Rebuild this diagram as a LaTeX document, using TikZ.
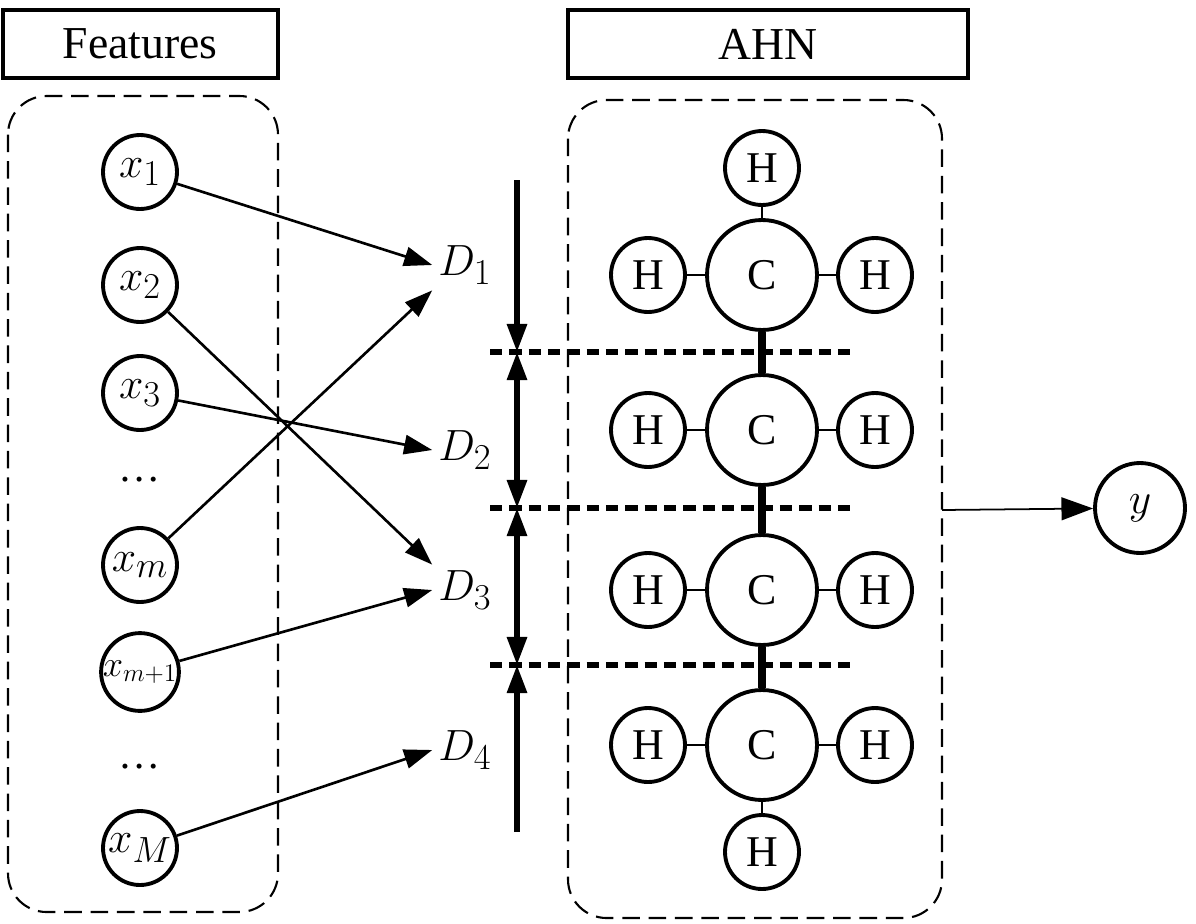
\documentclass[tikz,border=0pt]{standalone}
\usepackage{fontspec}
\setmainfont{Liberation Serif}
\usetikzlibrary{arrows.meta}
\begin{document}
\begin{tikzpicture}[x=0.02cm,y=-0.02cm,
 feat/.style={circle,draw,line width=2.2pt,minimum size=1.48cm,inner sep=0,font=\fontsize{30}{30}\selectfont},
 hn/.style={circle,draw,line width=2.2pt,minimum size=1.48cm,inner sep=0,font=\fontsize{25}{25}\selectfont},
 cn/.style={circle,draw,line width=2.2pt,minimum size=2.2cm,inner sep=0,font=\fontsize{25}{25}\selectfont},
 arr/.style={-{Triangle[length=16pt,width=11pt]},line width=1.5pt},
 lab/.style={font=\fontsize{31}{31}\selectfont}]
\useasboundingbox (0,0) rectangle (1196,923);
\draw[line width=2.5pt] (3,10) rectangle (278,78);
\node[font=\fontsize{26}{26}\selectfont] (ft) at (140,44) {Features};
\draw[line width=2.5pt] (568,10) rectangle (968,78);
\node[font=\fontsize{26}{26}\selectfont] (ahn) at (768,44) {AHN};
\draw[line width=1.2pt,dash pattern=on 10pt off 5pt,rounded corners=22pt] (8,96) rectangle (278,912);
\draw[line width=1.2pt,dash pattern=on 10pt off 5pt,rounded corners=22pt] (568,100) rectangle (942,918);
\node[feat] (x1) at (140,172) {$x_1$};
\node[feat] (x2) at (140,285) {$x_2$};
\node[feat] (x3) at (140,393) {$x_3$};
\node[font=\fontsize{24}{24}\selectfont] (d1) at (140,480) {\dots};
\node[feat] (xm) at (140,565) {$x_m$};
\node[feat,font=\fontsize{20}{20}\selectfont] (xm1) at (140,672) {$x_{m+1}$};
\node[font=\fontsize{24}{24}\selectfont] (d2) at (140,767) {\dots};
\node[feat] (xM) at (140,848) {$x_M$};
\node[lab] (D1) at (465,265) {$D_1$};
\node[lab] (D2) at (465,450) {$D_2$};
\node[lab] (D3) at (465,590) {$D_3$};
\node[lab] (D4) at (465,750) {$D_4$};
\draw[arr] (x1) -- (D1.west);
\draw[arr] (x2) -- (D3.north west);
\draw[arr] (x3) -- (D2.west);
\draw[arr] (xm) -- (D1.south west);
\draw[arr] (xm1) -- (D3.west);
\draw[arr] (xM) -- (D4.west);
\coordinate (v0) at (517,180);
\coordinate (v1) at (517,352);
\coordinate (v2) at (517,508);
\coordinate (v3) at (517,665);
\coordinate (v4) at (517,832);
\draw[arr,line width=3pt] (v0) -- (v1);
\draw[{Triangle[length=16pt,width=11pt]}-{Triangle[length=16pt,width=11pt]},line width=3pt] (v1) -- (v2);
\draw[{Triangle[length=16pt,width=11pt]}-{Triangle[length=16pt,width=11pt]},line width=3pt] (v2) -- (v3);
\draw[arr,line width=3pt] (v4) -- (v3);
\foreach \y in {352,508,665} \draw[line width=3pt,dash pattern=on 7pt off 4pt] (490,\y) -- (850,\y);
\foreach \i/\y in {1/275,2/430,3/590,4/745}{
  \node[cn] (c\i) at (762,\y) {C};
  \node[hn] (l\i) at (648,\y) {H};
  \node[hn] (r\i) at (875,\y) {H};
  \draw[line width=1pt] (l\i) -- (c\i);
  \draw[line width=1pt] (r\i) -- (c\i);
}
\node[hn] (ht) at (762,168) {H};
\node[hn] (hb) at (762,852) {H};
\draw[line width=1pt] (ht) -- (c1);
\draw[line width=1pt] (hb) -- (c4);
\draw[line width=4pt] (c1) -- (c2) (c2) -- (c3) (c3) -- (c4);
\node[circle,draw,line width=2.2pt,minimum size=1.8cm,inner sep=0,font=\fontsize{36}{36}\selectfont] (y) at (1140,508) {$y$};
\coordinate (o) at (942,510);
\draw[-{Triangle[length=18pt,width=13pt]},line width=1pt] (o) -- (y);
\end{tikzpicture}
\end{document}
